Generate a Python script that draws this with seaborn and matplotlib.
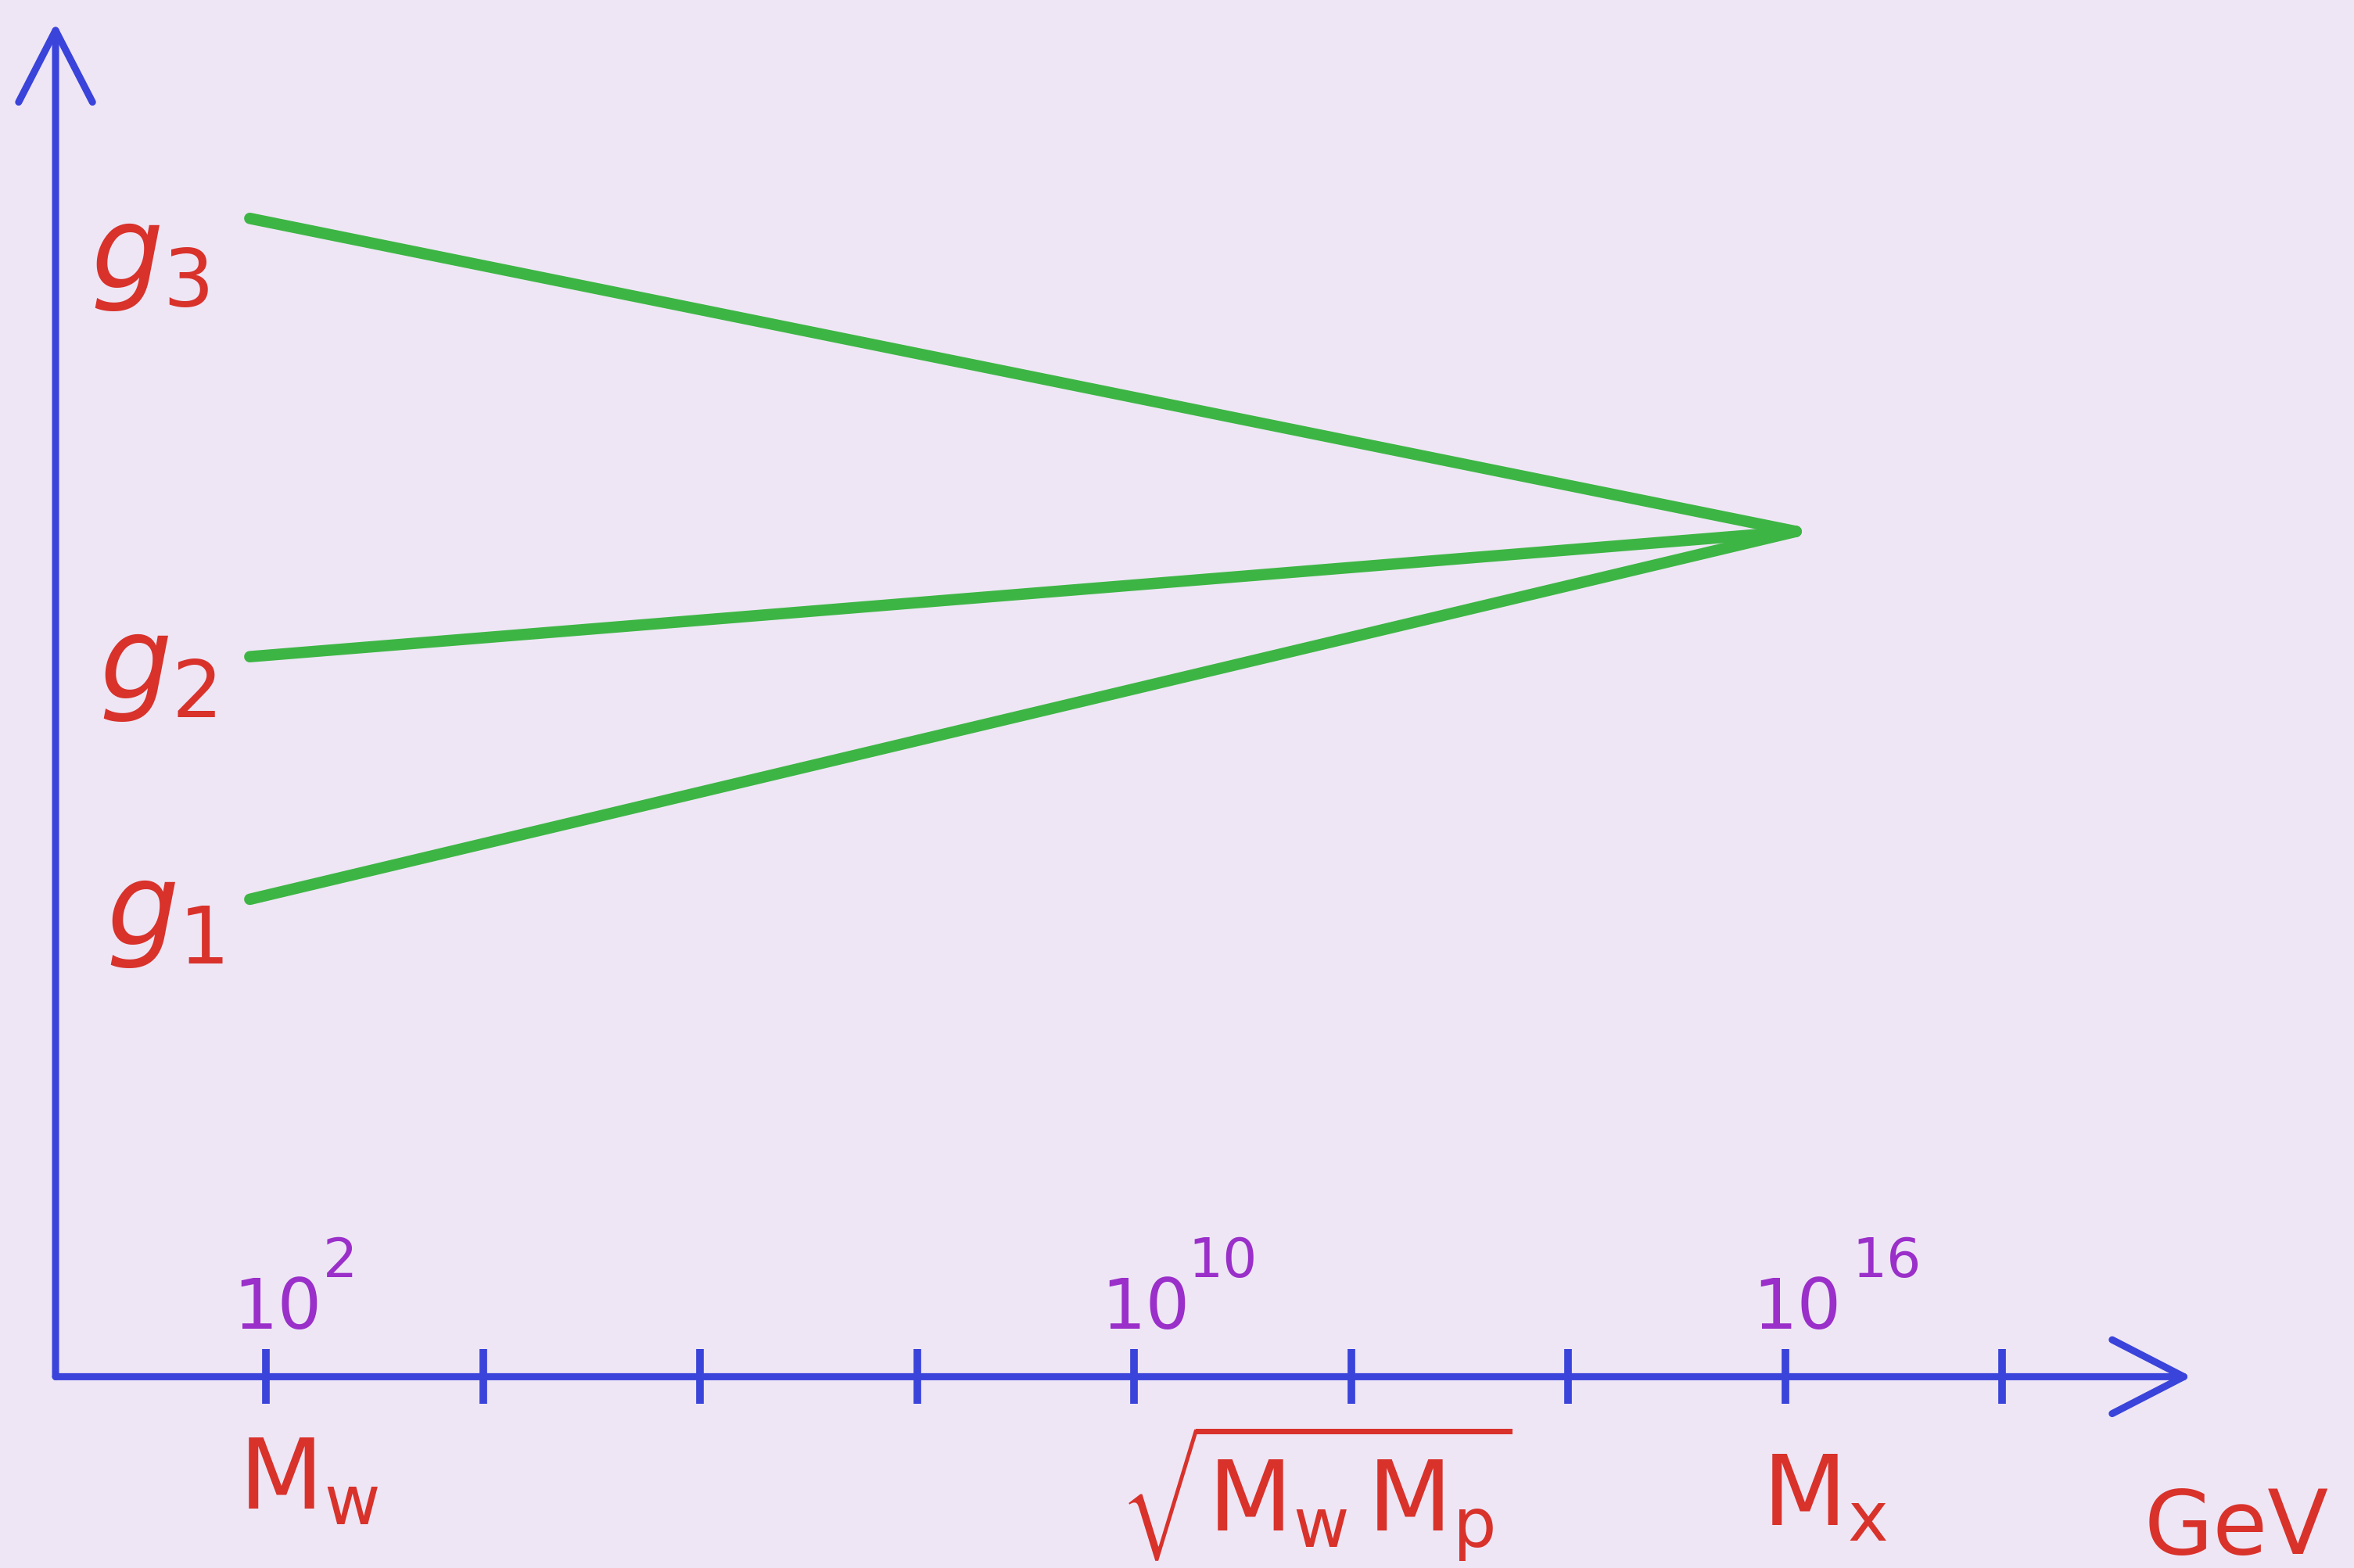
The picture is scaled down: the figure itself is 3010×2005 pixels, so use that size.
import numpy as np
import pandas as pd
import matplotlib
matplotlib.use("Agg")
import matplotlib.pyplot as plt
import seaborn as sns

# Gauge couplings running from the electroweak scale to unification
couplings = ["g1", "g2", "g3"]
coupling_labels = [r"$g_1$", r"$g_2$", r"$g_3$"]
log_e_start = 1.85          # log10(E / GeV) where the lines begin
log_e_unify = 16.1          # log10(E / GeV) where they meet
g_low = [6.1, 9.2, 14.8]    # values at the low scale
g_unify = 10.8              # common value at unification

# Label placement for the coupling names (log10 E, value)
label_log_e = [1.07, 1.00, 0.93]
label_value = [5.9, 9.05, 14.3]

# Energy axis
tick_exponents = [2, 4, 6, 8, 10, 12, 14, 16, 18]
power_exponents = ["2", "10", "16"]
power_tick = [2, 10, 16]
exponent_shift = [52, 50, 62]      # horizontal offset of the exponent from its tick (pt)
scale_names = [r"$\mathrm{M_w}$", r"$\sqrt{\mathrm{M_w\,M_p}}$", r"$\mathrm{M_x}$"]
scale_log_e = [2.39, 11.68, 16.36]
scale_drop = [122, 143, 137]
unit_label = "GeV"

BG = "#EEE6F5"
BLUE = "#3A43DA"
GREEN = "#3DB544"
RED = "#D8322B"
PURPLE = "#9A2FC9"

sns.set_theme(style="white")
plt.rcParams["font.family"] = ["DejaVu Sans"]

rows = []
for name, g0 in zip(couplings, g_low):
    rows.append({"energy": 10 ** log_e_start, "g": g0, "coupling": name})
    rows.append({"energy": 10 ** log_e_unify, "g": g_unify, "coupling": name})
df = pd.DataFrame(rows)

fig = plt.figure(figsize=(30.10, 20.05), dpi=100, facecolor=BG)
ax = fig.add_axes([0.0236, 0.122, 0.931 - 0.0236, 0.9855 - 0.122])
ax.set_facecolor(BG)

sns.lineplot(data=df, x="energy", y="g", hue="coupling",
             palette=[GREEN] * 3, legend=False,
             estimator=None, sort=False, ax=ax)
for ln in ax.lines:
    ln.set_linewidth(10.5)
    ln.set_solid_capstyle("round")

ax.set_xscale("log")
ax.set_xlim(10 ** 0.06, 10 ** 19.745)
ax.set_ylim(0, 17.3)
for s in ax.spines.values():
    s.set_visible(False)

ax.xaxis.set_major_locator(matplotlib.ticker.FixedLocator([10.0 ** e for e in tick_exponents]))
ax.xaxis.set_minor_locator(matplotlib.ticker.NullLocator())
ax.set_yticks([])
ax.tick_params(axis="x", which="major", bottom=True, direction="inout", length=51,
               width=7, color=BLUE, labelbottom=False)
ax.set_xlabel("")
ax.set_ylabel("")

# Axes drawn as arrows
arrow = dict(arrowstyle="->,head_length=3.3,head_width=1.7", lw=6.5,
             color=BLUE, mutation_scale=20, shrinkA=0, shrinkB=0)
ax.annotate("", xy=(1, 0), xytext=(0, 0), xycoords="axes fraction",
            arrowprops=arrow, annotation_clip=False)
ax.annotate("", xy=(0, 1), xytext=(0, 0), xycoords="axes fraction",
            arrowprops=arrow, annotation_clip=False)

# Coupling names
for lab, le, v in zip(coupling_labels, label_log_e, label_value):
    ax.text(10 ** le, v, lab, color=RED, fontsize=105, ha="center", va="center")

# Powers of ten above the axis
for e, t, dx in zip(power_exponents, power_tick, exponent_shift):
    ax.annotate("10", xy=(10.0 ** t, 0), xycoords=("data", "axes fraction"),
                xytext=(-30, 44), textcoords="offset points", ha="left", va="baseline",
                color=PURPLE, fontsize=64, annotation_clip=False)
    ax.annotate(e, xy=(10.0 ** t, 0), xycoords=("data", "axes fraction"),
                xytext=(dx, 92), textcoords="offset points", ha="left", va="baseline",
                color=PURPLE, fontsize=50, annotation_clip=False)

# Physical scales below the axis
for name, le, drop in zip(scale_names, scale_log_e, scale_drop):
    ax.annotate(name, xy=(10 ** le, 0), xycoords=("data", "axes fraction"),
                xytext=(0, -drop), textcoords="offset points", ha="center", va="baseline",
                color=RED, fontsize=90, annotation_clip=False)

ax.annotate(unit_label, xy=(10 ** 20.16, 0), xycoords=("data", "axes fraction"),
            xytext=(0, -163), textcoords="offset points", ha="center", va="baseline",
            color=RED, fontsize=82, annotation_clip=False)

fig.savefig("out.png", dpi=100, facecolor=BG)
